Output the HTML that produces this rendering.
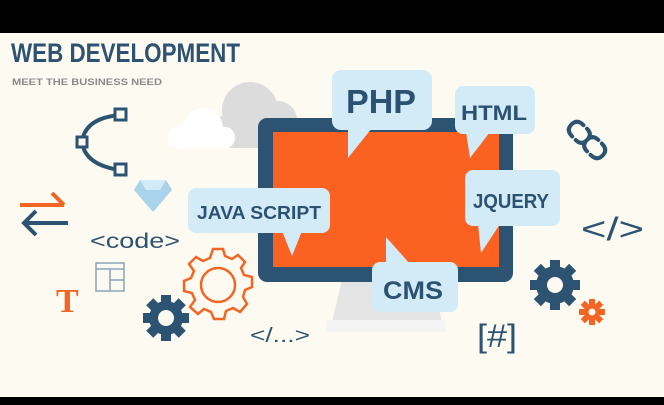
<!DOCTYPE html>
<html><head><meta charset="utf-8"><style>
html,body{margin:0;padding:0;background:#000;}
svg{display:block}
</style></head><body>
<svg width="664" height="405" viewBox="0 0 664 405" xmlns="http://www.w3.org/2000/svg" font-family="Liberation Sans, sans-serif">
<rect x="0" y="0" width="664" height="405" fill="#000"/>
<rect x="0" y="33" width="664" height="364" fill="#fdfbf1"/>
<text x="11" y="62" font-size="27" font-weight="bold" fill="#2e5272" textLength="229" lengthAdjust="spacingAndGlyphs">WEB DEVELOPMENT</text>
<text x="12" y="85" font-size="9" font-weight="bold" fill="#8a8a8a" textLength="150" lengthAdjust="spacingAndGlyphs">MEET THE BUSINESS NEED</text>

<!-- clouds -->
<g fill="#dcdcdc">
<circle cx="250" cy="110" r="28"/><circle cx="278" cy="120" r="19"/><rect x="215" y="112" width="83" height="36" rx="18"/>
</g>
<g fill="#ffffff">
<circle cx="203" cy="128" r="20"/><circle cx="182" cy="137" r="12"/><rect x="168" y="127" width="67" height="21" rx="10"/>
</g>

<!-- monitor stand -->
<polygon points="342,280 432,280 442,322 332,322" fill="#e4e4e4"/>
<rect x="326" y="320" width="120" height="12" rx="3" fill="#f4f4f4"/>
<!-- monitor -->
<rect x="258" y="118" width="255" height="164" rx="9" fill="#2d5372"/>
<rect x="273" y="132" width="226" height="135" fill="#fb6221"/>

<!-- bubbles -->
<g fill="#d3eaf7">
<rect x="332" y="70" width="100" height="60" rx="9"/>
<polygon points="348,128 372,128 348,158"/>
<rect x="455" y="86" width="80" height="48" rx="8"/>
<polygon points="466,132 490,132 470,158"/>
<rect x="465" y="170" width="95" height="56" rx="8"/>
<polygon points="478,224 500,224 481,253"/>
<rect x="188" y="188" width="142" height="45" rx="8"/>
<polygon points="282,231 302,231 292,256"/>
<rect x="372" y="262" width="86" height="50" rx="8"/>
<polygon points="386,237 386,264 410,264"/>
</g>
<g fill="#2b5272" font-weight="bold">
<text x="346" y="113" font-size="33" textLength="70" lengthAdjust="spacingAndGlyphs">PHP</text>
<text x="461" y="120" font-size="21" textLength="66" lengthAdjust="spacingAndGlyphs">HTML</text>
<text x="473" y="208" font-size="20" textLength="76" lengthAdjust="spacingAndGlyphs">JQUERY</text>
<text x="197" y="219" font-size="18" textLength="124" lengthAdjust="spacingAndGlyphs">JAVA SCRIPT</text>
<text x="383" y="299" font-size="25" textLength="60" lengthAdjust="spacingAndGlyphs">CMS</text>
</g>

<!-- bezier icon -->
<path d="M120,115 Q85,118 82,142 Q85,165 120,170" fill="none" stroke="#2d5372" stroke-width="4"/>
<rect x="115" y="109" width="11" height="11" fill="#fdfbf1" stroke="#2d5372" stroke-width="3"/>
<rect x="115" y="164" width="11" height="11" fill="#fdfbf1" stroke="#2d5372" stroke-width="3"/>
<rect x="77" y="137" width="10" height="10" fill="#fdfbf1" stroke="#2d5372" stroke-width="3"/>

<!-- diamond -->
<polygon points="140,180 166,180 172,190 153,212 134,190" fill="#a9d3ea"/>
<polygon points="140,180 166,180 160,190 146,190" fill="#d2ebf7"/>

<!-- arrows -->
<g stroke-width="4" fill="none">
<path d="M20,205 H64 M52,193 L64,205" stroke="#f26522"/>
<path d="M68,223 H24 M36,211 L24,223 L36,235" stroke="#2d5372"/>
</g>

<text x="90" y="248" font-size="21" fill="#2d5372" textLength="90" lengthAdjust="spacingAndGlyphs">&lt;code&gt;</text>
<!-- table icon -->
<rect x="96" y="263" width="28" height="28" fill="none" stroke="#8aa3b8" stroke-width="1.5"/>
<line x1="96" y1="269" x2="124" y2="269" stroke="#8aa3b8" stroke-width="1.5"/>
<line x1="110" y1="269" x2="110" y2="291" stroke="#8aa3b8" stroke-width="1.5"/>
<line x1="110" y1="280" x2="124" y2="280" stroke="#8aa3b8" stroke-width="1.5"/>
<text x="56" y="312" font-size="34" font-weight="bold" font-family="Liberation Serif, serif" fill="#f26522">T</text>

<!-- orange outline gear -->
<g transform="translate(218,285)" fill="none" stroke="#f26522" stroke-width="2.5">
<circle r="17"/>
<path d="M-5,-36 L5,-36 L7,-29 L14,-26 L20,-30 L27,-23 L23,-17 L26,-10 L34,-8 L34,2 L27,5 L25,12 L29,19 L22,27 L15,23 L8,26 L6,34 L-4,34 L-7,27 L-14,24 L-20,29 L-28,22 L-23,15 L-26,8 L-34,6 L-34,-4 L-27,-7 L-24,-14 L-29,-21 L-22,-28 L-15,-24 L-8,-27 Z"/>
</g>
<!-- dark gears -->
<g fill="#2d5372">
<g transform="translate(166,318)"><circle r="17"/>
<rect x="-5" y="-23" width="10" height="46"/><rect x="-23" y="-5" width="46" height="10"/>
<rect x="-5" y="-23" width="10" height="46" transform="rotate(45)"/><rect x="-5" y="-23" width="10" height="46" transform="rotate(-45)"/></g>
<g transform="translate(555,285)"><circle r="19"/>
<rect x="-5" y="-25" width="10" height="50"/><rect x="-25" y="-5" width="50" height="10"/>
<rect x="-5" y="-25" width="10" height="50" transform="rotate(45)"/><rect x="-5" y="-25" width="10" height="50" transform="rotate(-45)"/></g>
</g>
<circle cx="166" cy="318" r="8" fill="#fdfbf1"/>
<circle cx="555" cy="285" r="8" fill="#fdfbf1"/>
<g transform="translate(592,312)" fill="#f26522"><circle r="8"/>
<rect x="-3" y="-13" width="6" height="26"/><rect x="-13" y="-3" width="26" height="6"/>
<rect x="-3" y="-13" width="6" height="26" transform="rotate(45)"/><rect x="-3" y="-13" width="6" height="26" transform="rotate(-45)"/></g>
<circle cx="592" cy="312" r="3.5" fill="#fdfbf1"/>

<!-- chain -->
<g transform="translate(587,140) rotate(45)" fill="none" stroke="#2d5372" stroke-width="4" stroke-linecap="round">
<path d="M-13,-8 Q-22,-8 -22,0 Q-22,8 -13,8"/>
<path d="M-8,-8 Q0,-8 0,0 Q0,8 -8,8 M8,-8 Q0,-8 0,0 Q0,8 8,8"/>
<path d="M13,-8 Q22,-8 22,0 Q22,8 13,8"/>
</g>

<text x="581" y="240" font-size="32" fill="#2d5372" textLength="63" lengthAdjust="spacingAndGlyphs">&lt;/&gt;</text>
<text x="250" y="342" font-size="20" fill="#2d5372" textLength="60" lengthAdjust="spacingAndGlyphs">&lt;/...&gt;</text>
<text x="477" y="347" font-size="32" fill="#2d5372" textLength="40" lengthAdjust="spacingAndGlyphs">[#]</text>
</svg>
</body></html>
